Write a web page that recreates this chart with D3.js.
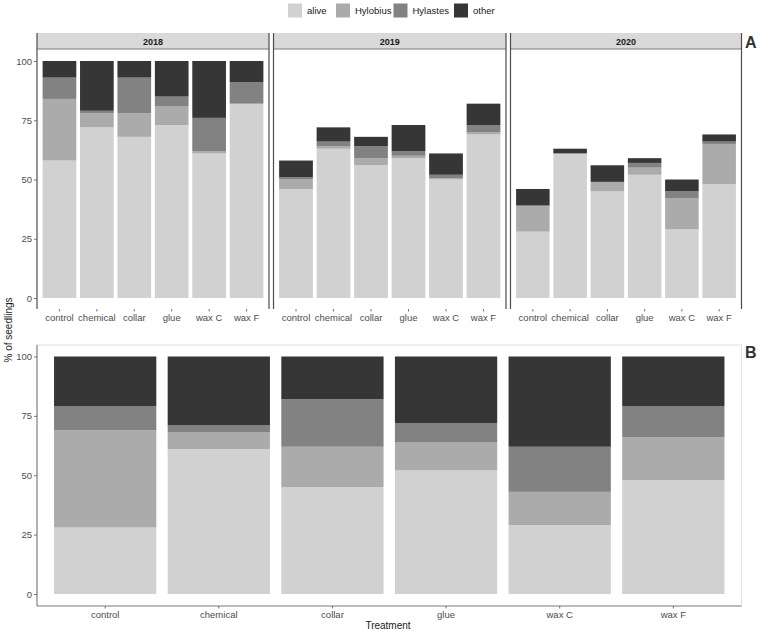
<!DOCTYPE html>
<html lang="en">
<head>
    <meta charset="UTF-8">
    <title>% of seedlings by treatment</title>
    <script src="https://d3js.org/d3.v7.min.js"></script>
    <style>
        body { margin: 0; background: #fff; }
        text { font-family: "Liberation Sans", Arial, sans-serif; }
    </style>
</head>
<body>

<script>
    // categories
    const treatments = ['control', 'chemical', 'collar', 'glue', 'wax C', 'wax F'];
    const years = ['2018', '2019', '2020'];
    const fates = ['alive', 'Hylobius', 'Hylastes', 'other'];
    const colors = ['#d1d1d1', '#ababab', '#828282', '#363636'];
    const yTicks = [0, 25, 50, 75, 100];

    // panel A: % per year, in treatment order (alive, Hylobius, Hylastes, other)
    const alive2018    = [58, 72, 68, 73, 61, 82];
    const hylobius2018 = [26, 6, 10, 8, 1, 0];
    const hylastes2018 = [9, 1, 15, 4, 14, 9];
    const other2018    = [7, 21, 7, 15, 24, 9];

    const alive2019    = [46, 63, 56, 59, 50, 69];
    const hylobius2019 = [4, 1, 3, 1, 0.5, 1];
    const hylastes2019 = [1, 2, 5, 2, 1.5, 3];
    const other2019    = [7, 6, 4, 11, 9, 9];

    const alive2020    = [28, 61, 45, 52, 29, 48];
    const hylobius2020 = [11, 0, 4, 3, 13, 17];
    const hylastes2020 = [0, 0, 0, 2, 3, 1];
    const other2020    = [7, 2, 7, 2, 5, 3];

    // panel B: fate of the dead seedlings
    const aliveB    = [28, 61, 45, 52, 29, 48];
    const hylobiusB = [41, 7, 17, 12, 14, 18];
    const hylastesB = [10, 3, 20, 8, 19, 13];
    const otherB    = [21, 29, 18, 28, 38, 21];

    const panelA = {
        '2018': [alive2018, hylobius2018, hylastes2018, other2018],
        '2019': [alive2019, hylobius2019, hylastes2019, other2019],
        '2020': [alive2020, hylobius2020, hylastes2020, other2020]
    };
    const panelB = [aliveB, hylobiusB, hylastesB, otherB];

    const W = 757, H = 631;
    const svg = d3.select('body').append('svg')
        .attr('width', W)
        .attr('height', H);

    const color = d3.scaleOrdinal().domain(fates).range(colors);

    // turn 4 arrays into rows for d3.stack
    function rows(series) {
        return treatments.map((t, i) => {
            const r = { treatment: t };
            fates.forEach((f, k) => r[f] = series[k][i]);
            return r;
        });
    }
    const stack = d3.stack().keys(fates);

    function drawBars(g, x, y, series) {
        g.selectAll('g.layer')
            .data(stack(rows(series)))
            .enter().append('g')
            .attr('class', 'layer')
            .attr('fill', d => color(d.key))
            .selectAll('rect')
            .data(d => d)
            .enter().append('rect')
            .attr('x', d => x(d.data.treatment))
            .attr('width', x.bandwidth())
            .attr('y', d => y(d[1]))
            .attr('height', d => Math.max(0, y(d[0]) - y(d[1])));
    }

    function styleAxis(a, fontSize) {
        a.select('.domain').remove();
        a.selectAll('.tick line').attr('stroke', '#555').attr('stroke-width', 0.8);
        a.selectAll('.tick text').attr('fill', '#4d4d4d').style('font-size', fontSize + 'px');
    }

    // ---------- panel A ----------
    const topY = d3.scaleLinear().domain([0, 100]).range([298, 61]);
    const panelsX = [[37, 269], [273.5, 506], [510.5, 741.5]];
    const stripTop = 33, stripBot = 49, panelBot = 309;

    years.forEach((yr, p) => {
        const [x0, x1] = panelsX[p];
        const x = d3.scaleBand().domain(treatments).range([x0, x1])
            .paddingInner(0.1).paddingOuter(0.15);
        const g = svg.append('g');

        drawBars(g, x, topY, panelA[yr]);

        // strip
        g.append('rect')
            .attr('x', x0).attr('y', stripTop)
            .attr('width', x1 - x0).attr('height', stripBot - stripTop)
            .attr('fill', '#d9d9d9');
        g.append('line')
            .attr('x1', x0).attr('x2', x1)
            .attr('y1', stripBot).attr('y2', stripBot)
            .attr('stroke', '#7a7a7a').attr('stroke-width', 1);
        g.append('text')
            .attr('x', (x0 + x1) / 2).attr('y', stripTop + 11.5)
            .attr('text-anchor', 'middle')
            .style('font-size', '9px').style('font-weight', 'bold')
            .attr('fill', '#1a1a1a')
            .text(yr);

        // side lines
        [x0, x1].forEach(xx => g.append('line')
            .attr('x1', xx).attr('x2', xx)
            .attr('y1', stripTop).attr('y2', panelBot)
            .attr('stroke', '#4d4d4d').attr('stroke-width', 1.2));

        const ax = g.append('g')
            .attr('transform', `translate(0,${panelBot})`)
            .call(d3.axisBottom(x).tickSize(2.5).tickPadding(2.5));
        styleAxis(ax, 9.5);

        if (p === 0) {
            const ay = g.append('g')
                .attr('transform', `translate(${x0},0)`)
                .call(d3.axisLeft(topY).tickValues(yTicks).tickSize(3).tickPadding(2));
            styleAxis(ay, 9.5);
        }
    });

    svg.append('text')
        .attr('x', 745).attr('y', 48)
        .style('font-size', '16px').style('font-weight', 'bold')
        .attr('fill', '#333')
        .text('A');

    // ---------- panel B ----------
    const bx0 = 37, bx1 = 741.5, bTop = 345, bBot = 606;
    const botY = d3.scaleLinear().domain([0, 100]).range([594, 356.5]);
    const xB = d3.scaleBand().domain(treatments).range([bx0, bx1])
        .paddingInner(0.1).paddingOuter(0.15);
    const gB = svg.append('g');

    gB.append('rect')
        .attr('x', bx0).attr('y', bTop)
        .attr('width', bx1 - bx0).attr('height', bBot - bTop)
        .attr('fill', 'none').attr('stroke', '#e3e3e3').attr('stroke-width', 1.2);

    drawBars(gB, xB, botY, panelB);

    gB.append('line')
        .attr('x1', bx0).attr('x2', bx0).attr('y1', bTop).attr('y2', bBot)
        .attr('stroke', '#8a8a8a').attr('stroke-width', 1.2);
    gB.append('line')
        .attr('x1', bx0).attr('x2', bx1).attr('y1', bBot).attr('y2', bBot)
        .attr('stroke', '#8a8a8a').attr('stroke-width', 1.2);

    const axB = gB.append('g')
        .attr('transform', `translate(0,${bBot})`)
        .call(d3.axisBottom(xB).tickSize(2.5).tickPadding(2.5));
    styleAxis(axB, 9.5);
    const ayB = gB.append('g')
        .attr('transform', `translate(${bx0},0)`)
        .call(d3.axisLeft(botY).tickValues(yTicks).tickSize(3).tickPadding(2));
    styleAxis(ayB, 9.5);

    svg.append('text')
        .attr('x', 745).attr('y', 358)
        .style('font-size', '16px').style('font-weight', 'bold')
        .attr('fill', '#333')
        .text('B');

    // axis titles
    svg.append('text')
        .attr('transform', 'translate(12,330) rotate(-90)')
        .attr('text-anchor', 'middle')
        .style('font-size', '10px')
        .attr('fill', '#1a1a1a')
        .text('% of seedlings');
    svg.append('text')
        .attr('x', 388).attr('y', 629)
        .attr('text-anchor', 'middle')
        .style('font-size', '10px')
        .attr('fill', '#1a1a1a')
        .text('Treatment');

    // legend
    const legendX = [288, 336, 393.5, 454];
    const lg = svg.append('g');
    fates.forEach((f, i) => {
        lg.append('rect')
            .attr('x', legendX[i]).attr('y', 3.5)
            .attr('width', 14).attr('height', 14)
            .attr('fill', color(f));
        lg.append('text')
            .attr('x', legendX[i] + 19).attr('y', 14)
            .style('font-size', '9.5px')
            .attr('fill', '#1a1a1a')
            .text(f);
    });
</script>

</body>
</html>
